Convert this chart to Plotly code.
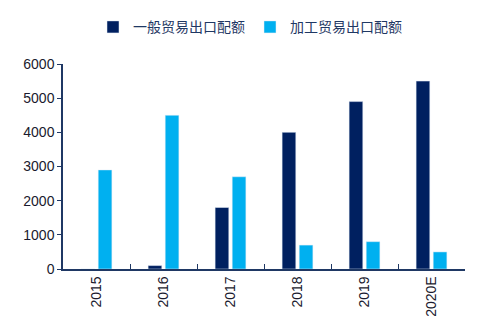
import plotly.graph_objects as go

years = ["2015", "2016", "2017", "2018", "2019", "2020E"]
general = [0, 100, 1800, 4000, 4900, 5500]
processing = [2900, 4500, 2700, 700, 800, 500]
names = ["一般贸易出口配额", "加工贸易出口配额"]
colors = ["#002060", "#00B0F0"]

fig = go.Figure()
fig.add_trace(go.Bar(x=years, y=general, name=names[0], marker_color=colors[0]))
fig.add_trace(go.Bar(x=years, y=processing, name=names[1], marker_color=colors[1]))

axis_color = "#1F3864"
fig.update_layout(
    width=500, height=333,
    margin=dict(l=63, r=35, t=64, b=64),
    paper_bgcolor="white", plot_bgcolor="white",
    barmode="group", bargap=0.49, bargroupgap=0.2,
    font=dict(family="Liberation Sans, Arial", size=14, color="#1a1a2e"),
    legend=dict(orientation="h", xref="container", x=0.5, xanchor="center",
                yref="container", y=0.918, yanchor="middle",
                font=dict(family="Noto Sans CJK SC", size=14, color="#1F3864"),
                itemwidth=30, traceorder="normal"),
    showlegend=True,
)
fig.update_xaxes(type="category", tickangle=-90, showline=True, linecolor=axis_color,
                 linewidth=1.5, ticks="inside", tickson="boundaries", ticklen=5,
                 tickcolor=axis_color, showgrid=False,
                 tickfont=dict(size=14, color="#1a1a2e"))
fig.update_yaxes(range=[0, 6000], dtick=1000, showline=True, linecolor=axis_color,
                 linewidth=1.5, ticks="outside", ticklen=4, tickcolor=axis_color,
                 showgrid=False, zeroline=False,
                 tickfont=dict(size=14, color="#1a1a2e"))

fig.write_html("out.html")
